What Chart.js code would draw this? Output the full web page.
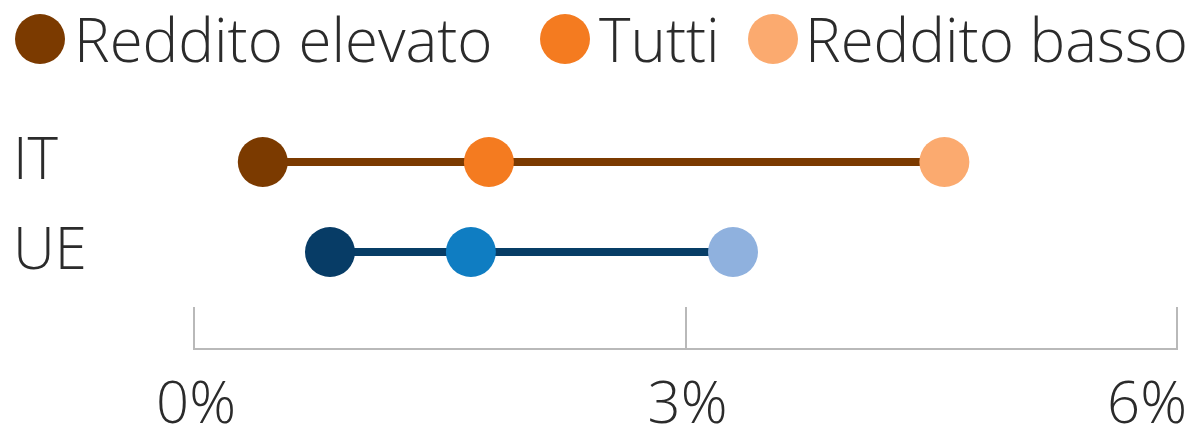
<!DOCTYPE html>
<html><head><meta charset="utf-8">
<script src="https://cdn.jsdelivr.net/npm/chart.js@4"></script>
<style>
html,body{margin:0;padding:0;background:#fff;}
#wrap{position:relative;width:1199px;height:437px;overflow:hidden;}
#legend{position:absolute;left:0;top:0;width:1199px;height:80px;font-family:"Open Sans";font-weight:300;font-size:60px;color:#2b2b2b;z-index:2;}
.item{position:absolute;top:0;height:78px;display:flex;align-items:center;white-space:nowrap;}
.dot{width:50px;height:50px;border-radius:50%;margin-right:10px;flex:none;}
canvas{position:absolute;left:0;top:0;}
</style></head>
<body>
<div id="wrap">
  <div id="legend"></div>
  <canvas id="c" width="1199" height="437"></canvas>
</div>
<script>
// ---- data ----
const categories = ['IT', 'UE'];
const seriesNames = ['Reddito elevato', 'Tutti', 'Reddito basso'];
const redditoElevato = [0.42, 0.83];
const tutti = [1.80, 1.69];
const redditoBasso = [4.58, 3.29];
const xTickValues = [0, 3, 6];
const xTickLabels = ['0%', '3%', '6%'];

// ---- styles ----
const pointColors = [
  ['#7b3a00', '#073c66'],   // Reddito elevato (IT, UE)
  ['#f47b20', '#0f7dc2'],   // Tutti
  ['#fbaa6f', '#8fb1de']    // Reddito basso
];
const lineColors = ['#7b3a00', '#073d66'];
const legendLefts = [15, 540, 748];
const legendGaps = [9, 9, 7];
const textColor = '#2b2b2b';
const axisColor = '#b9b9b9';
const FONT = '"Open Sans"';

// legend (HTML)
const legendEl = document.getElementById('legend');
seriesNames.forEach((n, i) => {
  const it = document.createElement('div');
  it.className = 'item';
  it.style.left = legendLefts[i] + 'px';
  const d = document.createElement('div');
  d.className = 'dot';
  d.style.background = pointColors[i][0];
  d.style.marginRight = legendGaps[i] + 'px';
  const t = document.createElement('span');
  t.textContent = n;
  it.appendChild(d); it.appendChild(t);
  legendEl.appendChild(it);
});

const seriesValues = [redditoElevato, tutti, redditoBasso];
const datasets = [];
categories.forEach((c, ci) => {
  const vals = seriesValues.map(s => s[ci]);
  datasets.push({
    type: 'scatter', showLine: true, order: 2,
    data: [{x: Math.min(...vals), y: ci}, {x: Math.max(...vals), y: ci}],
    borderColor: lineColors[ci], borderWidth: 8, pointRadius: 0, pointHoverRadius: 0
  });
});
seriesValues.forEach((s, si) => {
  datasets.push({
    type: 'scatter', label: seriesNames[si], order: 1,
    data: s.map((v, ci) => ({x: v, y: ci})),
    pointRadius: 25, pointHoverRadius: 25, pointBorderWidth: 0,
    pointBackgroundColor: pointColors[si], backgroundColor: pointColors[si][0]
  });
});

const xLabelPlugin = {
  id: 'xLabels',
  afterDraw(chart) {
    const sc = chart.scales.x, ctx = chart.ctx;
    ctx.save();
    ctx.font = '300 58px ' + FONT;
    ctx.fillStyle = textColor;
    ctx.textBaseline = 'middle';
    ctx.textAlign = 'left';
    xTickValues.forEach((v, i) => {
      const px = sc.getPixelForValue(v);
      const w = ctx.measureText(xTickLabels[i]).width;
      let left = px - w / 2 + 2;
      if (left + w > chart.width - 12) left = chart.width - 12 - w;
      ctx.fillText(xTickLabels[i], left, 406);
    });
    ctx.restore();
  }
};

new Chart(document.getElementById('c'), {
  type: 'scatter',
  data: { datasets },
  options: {
    responsive: false, animation: false,
    layout: { autoPadding: false, padding: { top: 72, right: 22, bottom: 0, left: 13 } },
    plugins: { legend: { display: false }, tooltip: { enabled: false } },
    scales: {
      x: {
        type: 'linear', min: 0, max: 6,
        afterBuildTicks: s => { s.ticks = xTickValues.map(v => ({value: v})); },
        afterFit: s => { s.height = 88; },
        ticks: { display: false },
        grid: { drawOnChartArea: false, drawTicks: true, tickLength: -42, color: axisColor, lineWidth: 2 },
        border: { display: true, color: axisColor, width: 2 }
      },
      y: {
        type: 'linear', reverse: true, min: -1, max: 2.078,
        afterBuildTicks: s => { s.ticks = categories.map((c, i) => ({value: i})); },
        afterFit: s => { s.width = 181; },
        ticks: {
          callback: v => categories[v],
          font: { family: FONT, size: 58, weight: 300 },
          color: textColor, crossAlign: 'far', padding: 0
        },
        grid: { display: false },
        border: { display: false }
      }
    }
  },
  plugins: [xLabelPlugin]
});
</script>
</body></html>
